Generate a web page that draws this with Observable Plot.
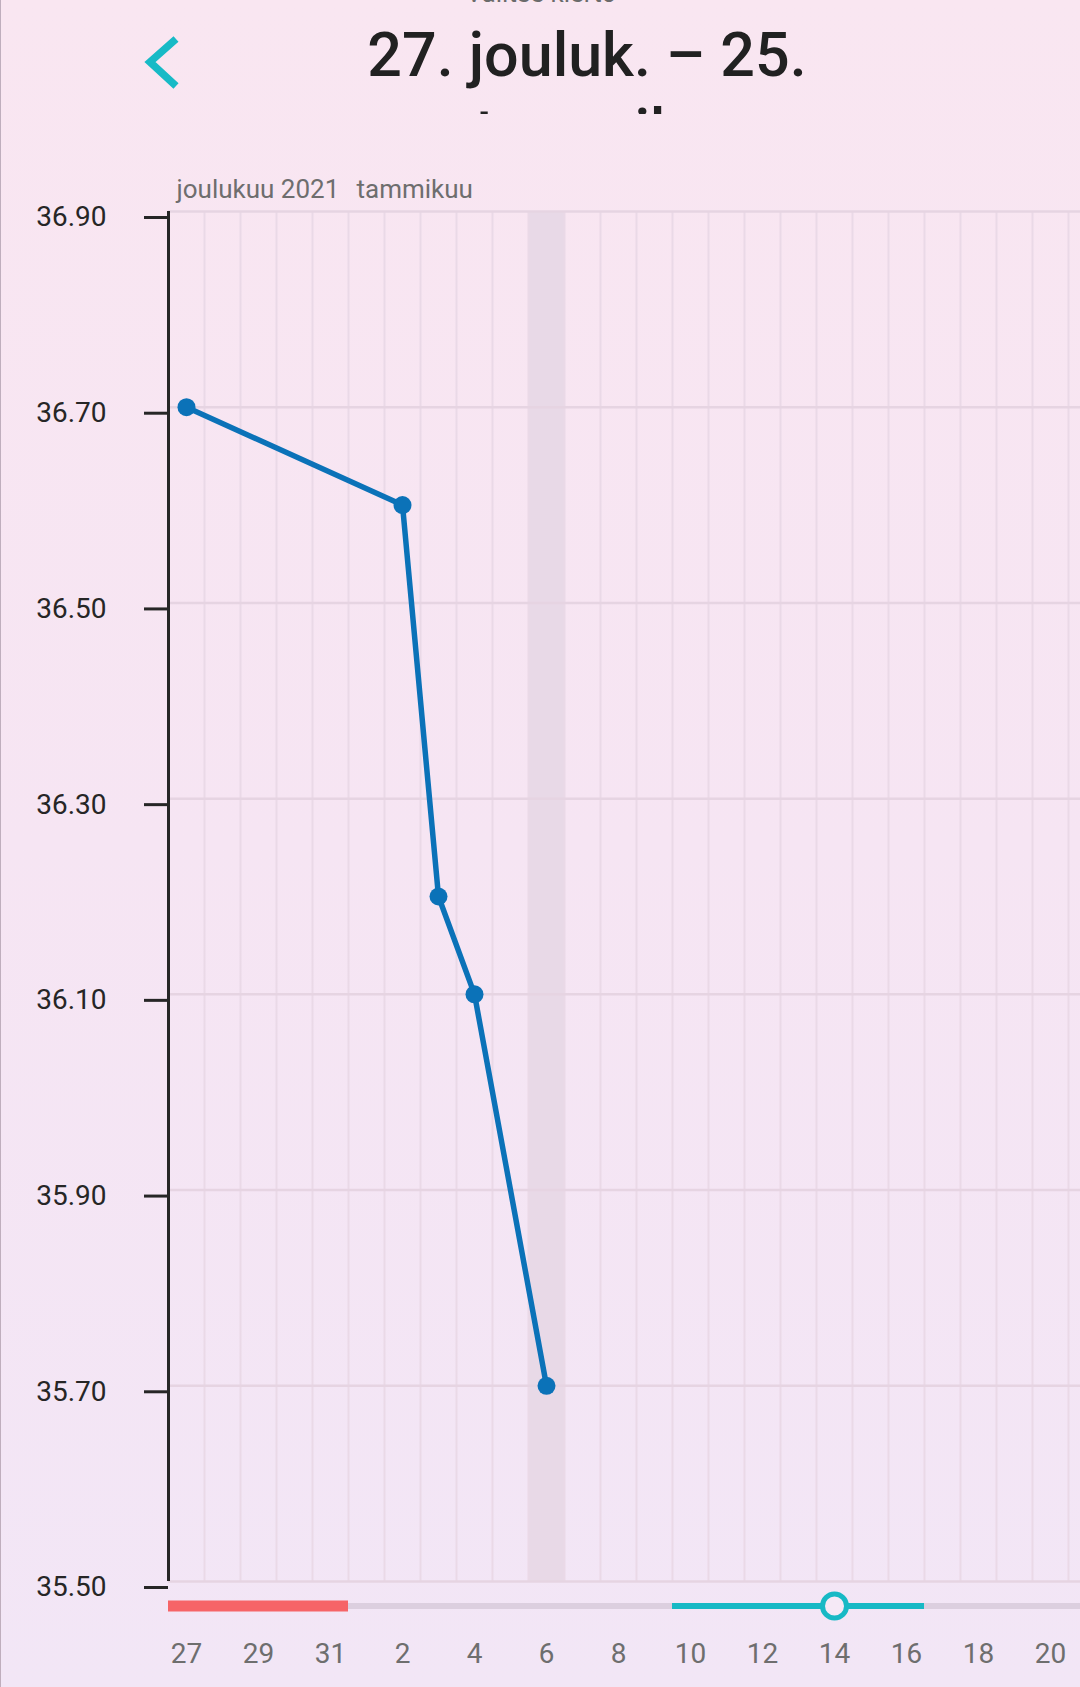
<!DOCTYPE html>
<html>
<head>
<meta charset="utf-8">
<script src="https://cdn.jsdelivr.net/npm/d3@7"></script>
<script src="https://cdn.jsdelivr.net/npm/@observablehq/plot@0.6"></script>
<style>
  html, body { margin: 0; padding: 0; }
  body {
    width: 1080px; height: 1687px; overflow: hidden;
    background: linear-gradient(180deg, #f9e6f1 0%, #f6e5f3 50%, #f2e6f6 100%);
    font-family: Roboto, "Noto Sans", sans-serif;
    position: relative;
  }
  #edge { position: absolute; left: 0; top: 0; width: 1px; height: 1687px; background: #bfaebd; }
  #header { position: relative; width: 1080px; height: 150px; }
  #pick { position: absolute; left: 1px; width: 1080px; top: -22px; text-align: center; font-size: 26px; color: #6b6b6b; }
  #back { position: absolute; left: 140px; top: 32px; }
  #titlebox { position: absolute; top: 0; left: 337px; width: 500px; height: 114px; overflow: hidden; }
  #title { text-align: center; font-size: 61px; font-weight: 500; color: #212121; line-height: 76px; padding-top: 17px; }
  #chart svg { display: block; }
</style>
</head>
<body>
<div id="edge"></div>
<div id="header">
  <div id="pick">Valitse kierto</div>
  <svg id="back" width="50" height="64"><polyline points="36,7 10,30 36,54" fill="none" stroke="#17bac6" stroke-width="7.5"/></svg>
  <div id="titlebox"><div id="title">27. jouluk. – 25.<br>tammik.</div></div>
</div>
<div id="chart"></div>
<script>
// Day labels of the cycle: 27 Dec 2021 – 25 Jan 2022 (index = day of cycle)
const dayLabels = [27,28,29,30,31,1,2,3,4,5,6,7,8,9,10,11,12,13,14,15,16,17,18,19,20,21,22,23,24,25];
// Temperature readings (cycle day index, °C)
const readingDay  = [0, 6, 7, 8, 10];
const readingTemp = [36.70, 36.60, 36.20, 36.10, 35.70];
// Y ticks
const yTicks = [35.50, 35.70, 35.90, 36.10, 36.30, 36.50, 36.70, 36.90];
// Month labels
const monthNames = ["joulukuu 2021", "tammikuu"];
const monthStart = [0, 5];
// Highlighted day (today)
const todayIndex = [10];
// Period days (red) and fertile window (teal) with ovulation day
const periodRange = [0, 4];
const fertileRange = [14, 20];
const ovulationDay = [18];
// Visible span of cycle days
const visibleRange = [-0.5, 24.833];

const readings = readingDay.map((d, i) => ({day: d, temp: readingTemp[i]}));
const xTickIdx = dayLabels.map((d, i) => i).filter(i => i % 2 === 0 && i <= visibleRange[1]);
const boundaries = dayLabels.map((d, i) => i + 0.5).filter(b => b < visibleRange[1]);
const months = monthNames.map((m, i) => ({name: m, start: monthStart[i] - 0.5}));
const yBottom = yTicks[0];

const chart = Plot.plot({
  width: 1080,
  height: 1537,
  marginTop: 61,
  marginBottom: 106,
  marginLeft: 168,
  marginRight: 0,
  style: {background: "transparent", fontFamily: "Roboto, sans-serif", overflow: "visible"},
  x: {domain: visibleRange, axis: null},
  y: {domain: [yTicks[0], yTicks[yTicks.length - 1]], axis: null},
  marks: [
    Plot.rect(todayIndex, {x1: d => d - 0.5, x2: d => d + 0.5, fill: "#e8d9e7"}),
    Plot.ruleX(boundaries, {stroke: "#ead9e7", strokeWidth: 2}),
    Plot.ruleY(yTicks, {stroke: "#e6d4e2", strokeWidth: 2.5}),
    Plot.axisY({ticks: yTicks, tickFormat: d => d.toFixed(2), tickSize: 24, tickPadding: 38, label: null,
      fontSize: 28, color: "#262626", strokeWidth: 3, dy: 6}),
    Plot.ruleX([visibleRange[0]], {stroke: "#262626", strokeWidth: 3}),
    Plot.text(months, {x: "start", y: () => yTicks[yTicks.length - 1], text: "name", textAnchor: "start",
      dx: 8, dy: -22, fontSize: 26, fill: "#6e6e6e"}),
    Plot.line(readings, {x: "day", y: "temp", stroke: "#0b72b8", strokeWidth: 5.5}),
    Plot.dot(readings, {x: "day", y: "temp", r: 9, fill: "#0b72b8"}),
    // bottom cycle strip
    Plot.ruleY([visibleRange], {x1: d => d[0], x2: d => d[1], y: () => yBottom, dy: 24.5, stroke: "#dccfdf", strokeWidth: 6}),
    Plot.ruleY([periodRange], {x1: d => d[0] - 0.5, x2: d => d[1] + 0.5, y: () => yBottom, dy: 24.5, stroke: "#f66467", strokeWidth: 11}),
    Plot.ruleY([fertileRange], {x1: d => d[0] - 0.5, x2: d => d[1] + 0.5, y: () => yBottom, dy: 24.5, stroke: "#17b9c5", strokeWidth: 6}),
    Plot.dot(ovulationDay, {x: d => d, y: () => yBottom, dy: 24.5, r: 12, fill: "#f5e9f6", stroke: "#17b9c5", strokeWidth: 5}),
    Plot.axisX({ticks: xTickIdx, tickFormat: i => String(dayLabels[i]), tickSize: 0, tickPadding: 62, label: null,
      fontSize: 28, color: "#6e6e6e"})
  ]
});
document.getElementById("chart").appendChild(chart);
</script>
</body>
</html>
